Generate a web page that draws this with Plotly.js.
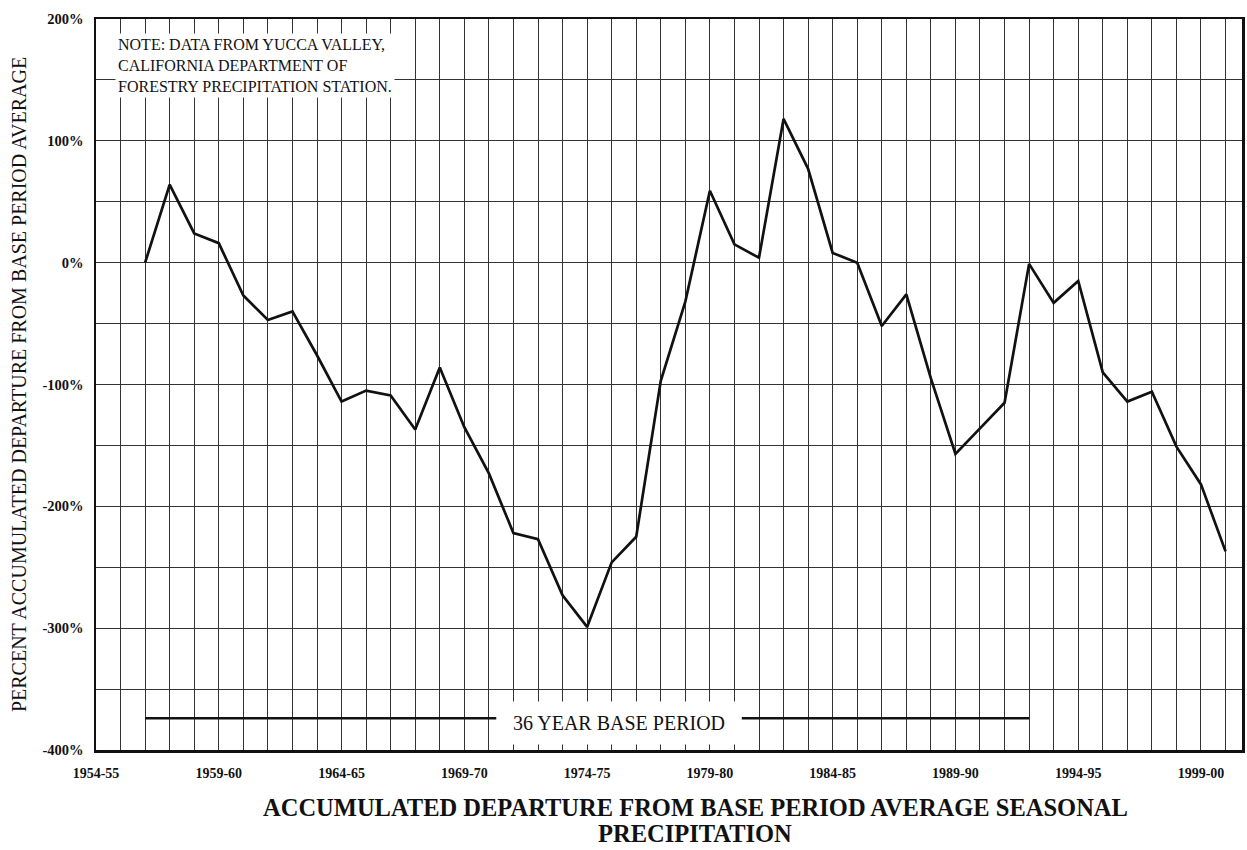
<!DOCTYPE html>
<html>
<head>
<meta charset="utf-8">
<script src="https://cdn.plot.ly/plotly-3.0.1.min.js"></script>
<style>html,body{margin:0;padding:0;background:#fff;}#chart{width:1247px;height:850px;}</style>
</head>
<body>
<div id="chart"></div>
<script>
// Season start years and labels
const seasonStart = [1956,1957,1958,1959,1960,1961,1962,1963,1964,1965,1966,1967,1968,1969,1970,
  1971,1972,1973,1974,1975,1976,1977,1978,1979,1980,1981,1982,1983,1984,1985,1986,1987,1988,1989,
  1990,1991,1992,1993,1994,1995,1996,1997,1998,1999,2000];
// Percent accumulated departure from base period average
const departure = [0,64,24,16,-27,-47,-40,-76,-114,-105,-109,-137,-86,-135,-173,
  -222,-227,-273,-299,-246,-225,-97,-32,59,15,4,118,77,8,0,-52,-26,-95,-157,
  -136,-115,-1,-33,-15,-90,-114,-106,-151,-182,-237];

const xTickVals = [1954,1959,1964,1969,1974,1979,1984,1989,1994,1999];
const xTickText = ["1954-55","1959-60","1964-65","1969-70","1974-75","1979-80","1984-85","1989-90","1994-95","1999-00"];
const yTickVals = [-400,-300,-200,-100,0,100,200];
const yTickText = ["-400%","-300%","-200%","-100%","0%","100%","200%"];

const basePeriod = {start: 1956, end: 1992, label: "36 YEAR BASE PERIOD"};
const noteText = "NOTE: DATA FROM YUCCA VALLEY,<br>CALIFORNIA DEPARTMENT OF<br>FORESTRY PRECIPITATION STATION.";
const xTitleLines = ["ACCUMULATED DEPARTURE FROM BASE PERIOD AVERAGE SEASONAL", "PRECIPITATION"];
const yTitle = "PERCENT ACCUMULATED DEPARTURE FROM BASE PERIOD AVERAGE";

const serif = "Liberation Serif, Times New Roman, serif";

const trace = {
  x: seasonStart, y: departure, type: "scatter", mode: "lines",
  line: {color: "#111", width: 2.7}, hoverinfo: "skip", showlegend: false
};

const baseY = -374;
const layout = {
  width: 1247, height: 850,
  margin: {l: 96, r: 5, t: 19, b: 100},
  paper_bgcolor: "#fff", plot_bgcolor: "#fff",
  font: {family: serif, color: "#111"},
  xaxis: {
    range: [1954, 2000.67], tickvals: xTickVals, ticktext: xTickText,
    tickfont: {family: serif, size: 14, color: "#111", weight: "bold"},
    ticks: "", ticklabelstandoff: 9,
    showgrid: true, gridcolor: "#333", gridwidth: 1,
    minor: {dtick: 1, tick0: 1954, showgrid: true, gridcolor: "#333", gridwidth: 1},
    showline: true, linecolor: "#111", linewidth: 2.5, mirror: true, zeroline: false
  },
  yaxis: {
    range: [-400, 200], tickvals: yTickVals, ticktext: yTickText,
    tickfont: {family: serif, size: 14.5, color: "#111", weight: "bold"},
    ticks: "", ticklabelstandoff: 7,
    showgrid: true, gridcolor: "#333", gridwidth: 1,
    minor: {dtick: 50, tick0: 0, showgrid: true, gridcolor: "#333", gridwidth: 1},
    showline: true, linecolor: "#111", linewidth: 2.5, mirror: true, zeroline: false,
    title: {text: yTitle, font: {family: serif, size: 20, color: "#111"}, standoff: 11}
  },
  shapes: [
    {type: "line", xref: "x", yref: "y", x0: basePeriod.start, x1: 1970.3, y0: baseY, y1: baseY,
     line: {color: "#111", width: 2.5}},
    {type: "line", xref: "x", yref: "y", x0: 1980.3, x1: basePeriod.end, y0: baseY, y1: baseY,
     line: {color: "#111", width: 2.5}}
  ],
  annotations: [
    {text: basePeriod.label, xref: "x", yref: "y", x: 1975.3, y: -378, showarrow: false,
     font: {family: serif, size: 20, color: "#111"}, bgcolor: "#fff", width: 236, height: 42, borderpad: 0},
    {text: noteText, xref: "paper", yref: "paper", x: 0.017, y: 0.981, xanchor: "left", yanchor: "top",
     align: "left", showarrow: false, bgcolor: "#fff", borderpad: 2,
     font: {family: serif, size: 16, color: "#111"}},
    {text: "<b>" + xTitleLines[0] + "</b>",
     xref: "paper", yref: "paper", x: 0.5227, y: -0.0793, xanchor: "center", yanchor: "middle",
     showarrow: false, font: {family: serif, size: 24.5, color: "#111"}},
    {text: "<b>" + xTitleLines[1] + "</b>",
     xref: "paper", yref: "paper", x: 0.5227, y: -0.1149, xanchor: "center", yanchor: "middle",
     showarrow: false, font: {family: serif, size: 24.5, color: "#111"}}
  ]
};

Plotly.newPlot("chart", [trace], layout, {displayModeBar: false, staticPlot: true});
</script>
</body>
</html>
